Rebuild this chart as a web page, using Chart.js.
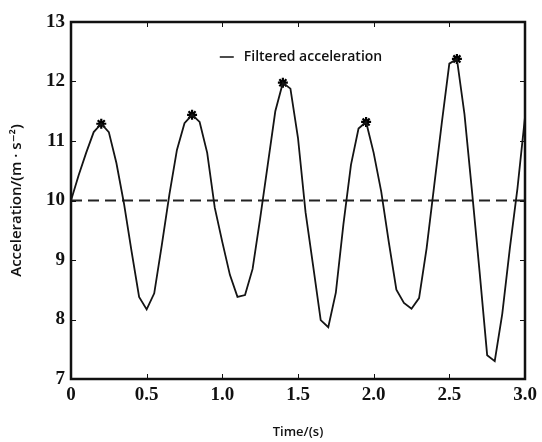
<!DOCTYPE html>
<html>
<head>
<meta charset="utf-8">
<script src="https://cdn.jsdelivr.net/npm/chart.js@4.4.1/dist/chart.umd.min.js"></script>
<style>
  html, body { margin: 0; padding: 0; background: #fff; }
  #wrap { width: 542px; height: 442px; }
</style>
</head>
<body>
<div id="wrap"><canvas id="accChart" width="542" height="442"></canvas></div>
<script>
// filtered acceleration, sampled every 0.05 s
const times = [0.00, 0.05, 0.10, 0.15, 0.20, 0.25, 0.30, 0.35, 0.40, 0.45,
               0.50, 0.55, 0.60, 0.65, 0.70, 0.75, 0.80, 0.85, 0.90, 0.95,
               1.00, 1.05, 1.10, 1.15, 1.20, 1.25, 1.30, 1.35, 1.40, 1.45,
               1.50, 1.55, 1.60, 1.65, 1.70, 1.75, 1.80, 1.85, 1.90, 1.95,
               2.00, 2.05, 2.10, 2.15, 2.20, 2.25, 2.30, 2.35, 2.40, 2.45,
               2.50, 2.55, 2.60, 2.65, 2.70, 2.75, 2.80, 2.85, 2.90, 2.95, 3.00];
const accel = [10.0, 10.42, 10.8, 11.15, 11.29, 11.15, 10.63, 9.95, 9.15, 8.38,
               8.17, 8.44, 9.25, 10.1, 10.85, 11.3, 11.44, 11.32, 10.8, 9.88,
               9.3, 8.75, 8.38, 8.41, 8.85, 9.7, 10.6, 11.5, 11.98, 11.88,
               11.05, 9.8, 8.9, 7.99, 7.87, 8.45, 9.6, 10.6, 11.21, 11.32,
               10.8, 10.15, 9.3, 8.5, 8.28, 8.18, 8.36, 9.2, 10.25, 11.3,
               12.3, 12.38, 11.45, 10.15, 8.8, 7.4, 7.3, 8.1, 9.2, 10.2, 11.4];

// detected peaks (asterisks)
const peakTimes = [0.2, 0.8, 1.4, 1.95, 2.55];
const peakAccel = [11.29, 11.44, 11.98, 11.32, 12.38];

// threshold line
const thresholdTimes = [0, 3];
const thresholdAccel = [10, 10];

const xTicks = [0, 0.5, 1.0, 1.5, 2.0, 2.5, 3.0];
const yTicks = [7, 8, 9, 10, 11, 12, 13];

const sansFont = '"Open Sans", "DejaVu Sans", sans-serif';
const toPoints = (xs, ys) => xs.map((x, i) => ({ x: x, y: ys[i] }));

// box around the plot + little inward tick marks on all four sides
const framePlugin = {
    id: 'frame',
    afterDatasetsDraw(chart) {
        const { ctx, chartArea: a, scales } = chart;
        ctx.save();
        ctx.strokeStyle = '#111';
        ctx.lineWidth = 1;
        xTicks.forEach(v => {
            const px = Math.round(scales.x.getPixelForValue(v)) + 0.5;
            ctx.beginPath();
            ctx.moveTo(px, a.top); ctx.lineTo(px, a.top + 5);
            ctx.moveTo(px, a.bottom); ctx.lineTo(px, a.bottom - 5);
            ctx.stroke();
        });
        yTicks.forEach(v => {
            const py = Math.round(scales.y.getPixelForValue(v)) + 0.5;
            ctx.beginPath();
            ctx.moveTo(a.left, py); ctx.lineTo(a.left + 5, py);
            ctx.moveTo(a.right, py); ctx.lineTo(a.right - 5, py);
            ctx.stroke();
        });
        ctx.lineWidth = 2.5;
        ctx.strokeRect(a.left, a.top, a.right - a.left, a.bottom - a.top);
        ctx.restore();
    }
};

// legend sits inside the plot, near the top
const innerLegend = {
    id: 'innerLegend',
    afterDraw(chart) {
        const { ctx, chartArea: a } = chart;
        const label = chart.data.datasets[0].label;
        ctx.save();
        ctx.font = '600 14px ' + sansFont;
        const tw = ctx.measureText(label).width;
        const total = 14 + 10 + tw;
        const x0 = (a.left + a.right) / 2 - total / 2 + 3;
        const y0 = a.top + 35;
        ctx.strokeStyle = '#111';
        ctx.lineWidth = 1.5;
        ctx.beginPath();
        ctx.moveTo(x0, y0); ctx.lineTo(x0 + 14, y0);
        ctx.stroke();
        ctx.fillStyle = '#111';
        ctx.textBaseline = 'middle';
        ctx.fillText(label, x0 + 24, y0);
        ctx.restore();
    }
};

const ctx = document.getElementById('accChart').getContext('2d');
const accChart = new Chart(ctx, {
    type: 'line',
    data: {
        datasets: [{
            label: 'Filtered acceleration',
            data: toPoints(times, accel),
            borderColor: '#141414',
            backgroundColor: '#141414',
            borderWidth: 1.8,
            pointRadius: 0,
            tension: 0,
            fill: false
        }, {
            label: 'threshold',
            data: toPoints(thresholdTimes, thresholdAccel),
            borderColor: '#222',
            borderWidth: 2,
            borderDash: [11, 6],
            pointRadius: 0,
            fill: false
        }, {
            label: 'peaks',
            type: 'scatter',
            data: toPoints(peakTimes, peakAccel),
            pointStyle: 'star',
            pointRadius: 5,
            borderWidth: 2.2,
            borderColor: '#000',
            backgroundColor: '#000'
        }]
    },
    options: {
        responsive: false,
        animation: false,
        layout: { padding: { left: 0, right: 17, top: 22, bottom: 0 } },
        plugins: {
            tooltip: { enabled: false },
            legend: { display: false }
        },
        scales: {
            x: {
                type: 'linear',
                min: 0,
                max: 3,
                afterBuildTicks: axis => { axis.ticks = xTicks.map(v => ({ value: v })); },
                afterFit: axis => { axis.height = 63; },
                grid: { display: false, drawTicks: false },
                border: { display: false },
                ticks: {
                    padding: 5,
                    color: '#111',
                    maxRotation: 0,
                    font: { family: '"Liberation Serif", serif', size: 19, weight: 'bold' },
                    callback: v => (v === 0 ? '0' : v.toFixed(1))
                },
                title: {
                    display: true,
                    text: 'Time/(s)',
                    color: '#111',
                    padding: { top: 10, bottom: 2 },
                    font: { family: sansFont, size: 13, weight: '600' }
                }
            },
            y: {
                min: 7,
                max: 13,
                afterBuildTicks: axis => { axis.ticks = yTicks.map(v => ({ value: v })); },
                afterFit: axis => { axis.width = 71; },
                grid: { display: false, drawTicks: false },
                border: { display: false },
                ticks: {
                    padding: 6,
                    color: '#111',
                    font: { family: '"Liberation Serif", serif', size: 19, weight: 'bold' }
                },
                title: {
                    display: true,
                    text: 'Acceleration/(m · s⁻²)',
                    color: '#111',
                    padding: { top: 8, bottom: 0 },
                    font: { family: sansFont, size: 15, weight: '600' }
                }
            }
        }
    },
    plugins: [framePlugin, innerLegend]
});
</script>
</body>
</html>
